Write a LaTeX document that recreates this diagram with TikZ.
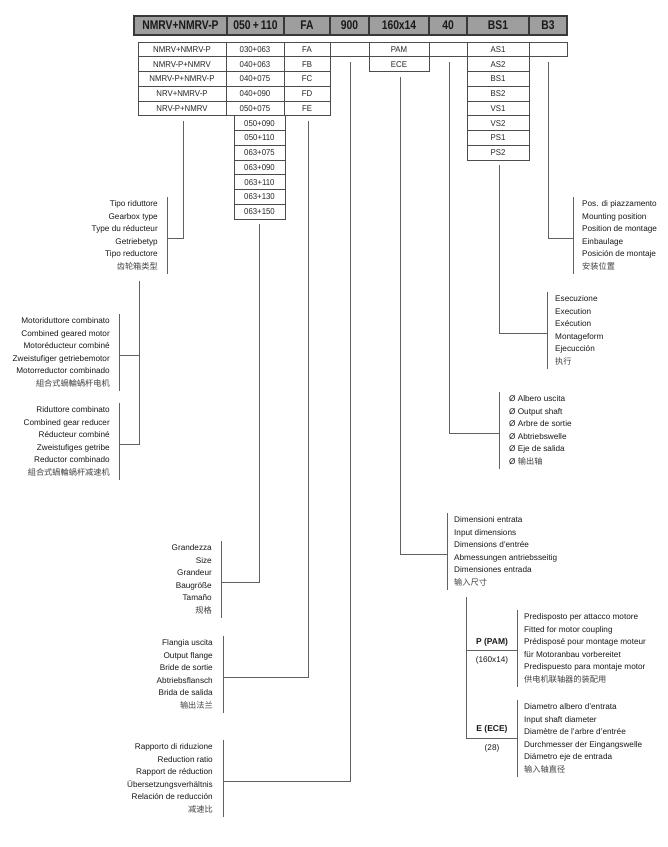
\documentclass[tikz,border=0pt]{standalone}
\usepackage{fontspec}
\setmainfont{Liberation Sans}
\newfontfamily\hdrfont[FakeStretch=0.82,BoldFeatures={FakeStretch=0.82}]{Liberation Sans}
\newfontfamily\cellfont[FakeStretch=0.92]{Liberation Sans}
\newfontfamily\cjk{Noto Sans CJK SC}
\newcommand{\cj}[1]{{\cjk\color{black!75}#1}}
\begin{document}
\begin{tikzpicture}[x=1pt,y=-1pt,
  hcell/.style={draw=black!78, line width=1.5pt, fill=black!38, minimum height=19pt, inner sep=0pt, font=\hdrfont\bfseries\fontsize{12.6}{14}\selectfont, text=black!90},
  cell/.style={draw=black!70, line width=0.7pt, minimum height=14.75pt, inner sep=0pt, font=\cellfont\fontsize{8.5}{10}\selectfont, text=black!85},
  conn/.style={draw=black!62, line width=0.8pt},
  lblR/.style={align=right, anchor=east, inner sep=0pt, font=\fontsize{8.2}{12.5}\selectfont, text=black!90},
  lblL/.style={align=left, anchor=west, inner sep=0pt, font=\fontsize{8.2}{12.5}\selectfont, text=black!90},
  pbold/.style={inner sep=0pt, font=\bfseries\fontsize{8.5}{10}\selectfont, text=black!90},
  psub/.style={inner sep=0pt, font=\fontsize{8.2}{10}\selectfont, text=black!90}
]
\useasboundingbox (0,0) rectangle (668,847);
\fill[white] (0,0) rectangle (668,847);

% header
\node[hcell, minimum width=93pt] (h1) at (180.5,25.5) {NMRV+NMRV-P};
\node[hcell, minimum width=57pt] (h2) at (255.5,25.5) {050\,+\,110};
\node[hcell, minimum width=46pt] (h3) at (307,25.5) {FA};
\node[hcell, minimum width=39pt] (h4) at (349.5,25.5) {900};
\node[hcell, minimum width=60pt] (h5) at (399,25.5) {160x14};
\node[hcell, minimum width=38pt] (h6) at (448,25.5) {40};
\node[hcell, minimum width=62pt] (h7) at (498,25.5) {BS1};
\node[hcell, minimum width=38pt] (h8) at (548,25.5) {B3};

% table row 1
\node[cell, minimum width=88pt] (t11) at (182,49.375) {NMRV+NMRV-P};
\node[cell, minimum width=58pt] (t12) at (255,49.375) {030+063};
\node[cell, minimum width=46pt] (t13) at (307,49.375) {FA};
\node[cell, minimum width=39pt] (t14) at (349.5,49.375) {};
\node[cell, minimum width=60pt] (t15) at (399,49.375) {PAM};
\node[cell, minimum width=38pt] (t16) at (448,49.375) {};
\node[cell, minimum width=62pt] (t17) at (498,49.375) {AS1};
\node[cell, minimum width=38pt] (t18) at (548,49.375) {};
\node[cell, minimum width=60pt] (t25) at (399,64.125) {ECE};

% columns 1-3, rows 2-5
\foreach \a/\b/\c [count=\i from 2] in {NMRV-P+NMRV/040+063/FB, NMRV-P+NMRV-P/040+075/FC, NRV+NMRV-P/040+090/FD, NRV-P+NMRV/050+075/FE}{
  \node[cell, minimum width=88pt] (r\i a) at (182,{42+14.75*(\i-0.5)}) {\a};
  \node[cell, minimum width=58pt] (r\i b) at (255,{42+14.75*(\i-0.5)}) {\b};
  \node[cell, minimum width=46pt] (r\i c) at (307,{42+14.75*(\i-0.5)}) {\c};
}
% lower size column
\foreach \t [count=\i from 6] in {050+090,050+110,063+075,063+090,063+110,063+130,063+150}{
  \node[cell, minimum width=51pt] (s\i) at (259.5,{42+14.75*(\i-0.5)}) {\t};
}
% mounting column
\foreach \t [count=\i from 2] in {AS2,BS1,BS2,VS1,VS2,PS1,PS2}{
  \node[cell, minimum width=62pt] (m\i) at (498,{42+14.75*(\i-0.5)}) {\t};
}

% label blocks
\node[lblR] (A) at (158,235.25) {\strut Tipo riduttore\\\strut Gearbox type\\\strut Type du réducteur\\\strut Getriebetyp\\\strut Tipo reductore\\\strut\cj{齿轮箱类型}};
\node[lblR] (B) at (110,352.25) {\strut Motoriduttore combinato\\\strut Combined geared motor\\\strut Motoréducteur combiné\\\strut Zweistufiger getriebemotor\\\strut Motorreductor combinado\\\strut\cj{組合式蝸輪蝸杆电机}};
\node[lblR] (C) at (110,441.25) {\strut Riduttore combinato\\\strut Combined gear reducer\\\strut Réducteur combiné\\\strut Zweistufiges getribe\\\strut Reductor combinado\\\strut\cj{組合式蝸輪蝸杆减速机}};
\node[lblR] (D) at (212,579.25) {\strut Grandezza\\\strut Size\\\strut Grandeur\\\strut Baugröße\\\strut Tamaño\\\strut\cj{规格}};
\node[lblR] (E) at (213,674.25) {\strut Flangia uscita\\\strut Output flange\\\strut Bride de sortie\\\strut Abtriebsflansch\\\strut Brida de salida\\\strut\cj{输出法兰}};
\node[lblR] (F) at (213,778.25) {\strut Rapporto di riduzione\\\strut Reduction ratio\\\strut Rapport de réduction\\\strut Übersetzungsverhältnis\\\strut Relación de reducción\\\strut\cj{减速比}};
\node[lblL] (G) at (454,551.25) {\strut Dimensioni entrata\\\strut Input dimensions\\\strut Dimensions d'entrée\\\strut Abmessungen antriebsseitig\\\strut Dimensiones entrada\\\strut\cj{输入尺寸}};
\node[lblL] (H) at (509,430.25) {\strut Ø Albero uscita\\\strut Ø Output shaft\\\strut Ø Arbre de sortie\\\strut Ø Abtriebswelle\\\strut Ø Eje de salida\\\strut Ø \cj{输出轴}};
\node[lblL] (I) at (555,330.25) {\strut Esecuzione\\\strut Execution\\\strut Exécution\\\strut Montageform\\\strut Ejecucción\\\strut\cj{执行}};
\node[lblL] (J) at (582,235.25) {\strut Pos. di piazzamento\\\strut Mounting position\\\strut Position de montage\\\strut Einbaulage\\\strut Posición de montaje\\\strut\cj{安装位置}};
\node[lblL] (K) at (524,648.25) {\strut Predisposto per attacco motore\\\strut Fitted for motor coupling\\\strut Prédisposé pour montage moteur\\\strut für Motoranbau vorbereitet\\\strut Predispuesto para montaje motor\\\strut\cj{供电机联轴器的装配用}};
\node[lblL] (L) at (524,738.25) {\strut Diametro albero d'entrata\\\strut Input shaft diameter\\\strut Diamètre de l'arbre d'entrée\\\strut Durchmesser der Eingangswelle\\\strut Diámetro eje de entrada\\\strut\cj{输入轴直径}};

\node[pbold] (pam) at (492,642) {P (PAM)};
\node[psub] (pamv) at (492,660) {(160x14)};
\node[pbold] (ece) at (492,729) {E (ECE)};
\node[psub] (ecev) at (492,748) {(28)};

% bracket coordinates
\coordinate (At) at (167,197);   \coordinate (Ab) at (167,273.5); \coordinate (Am) at (167,238);
\coordinate (Bt) at (119,314);   \coordinate (Bb) at (119,390.5); \coordinate (Bm) at (119,355);
\coordinate (Ct) at (119,403);   \coordinate (Cb) at (119,479.5); \coordinate (Cm) at (119,444);
\coordinate (Dt) at (221,541);   \coordinate (Db) at (221,617.5); \coordinate (Dm) at (221,582);
\coordinate (Et) at (223,636);   \coordinate (Eb) at (223,712.5); \coordinate (Em) at (223,677);
\coordinate (Ft) at (223,740);   \coordinate (Fb) at (223,816.5); \coordinate (Fm) at (223,781);
\coordinate (Gt) at (447,513);   \coordinate (Gb) at (447,589.5); \coordinate (Gm) at (447,554);
\coordinate (Ht) at (499,392);   \coordinate (Hb) at (499,468.5); \coordinate (Hm) at (499,433);
\coordinate (It) at (547,292);   \coordinate (Ib) at (547,368.5); \coordinate (Im) at (547,333);
\coordinate (Jt) at (573,197);   \coordinate (Jb) at (573,273.5); \coordinate (Jm) at (573,238);
\coordinate (Kt) at (517,610);   \coordinate (Kb) at (517,686.5); \coordinate (Km) at (517,650);
\coordinate (Lt) at (517,700);   \coordinate (Lb) at (517,776.5); \coordinate (Lm) at (517,738);

\foreach \n in {A,B,C,D,E,F,G,H,I,J,K,L}{ \draw[conn] (\n t) -- (\n b); }

% connector start points
\coordinate (c1) at (183,121);
\coordinate (c2) at (259,224);
\coordinate (c3) at (308,121);
\coordinate (c4) at (350,62);
\coordinate (c5) at (400,77);
\coordinate (c6) at (449,62);
\coordinate (c7) at (499,165);
\coordinate (c8) at (548,62);
\coordinate (cg) at (139,281);
\coordinate (cp) at (466,597);

\draw[conn] (c1) |- (Am);
\draw[conn] (c2) |- (Dm);
\draw[conn] (c3) |- (Em);
\draw[conn] (c4) |- (Fm);
\draw[conn] (c5) |- (Gm);
\draw[conn] (c6) |- (Hm);
\draw[conn] (c7) |- (Im);
\draw[conn] (c8) |- (Jm);
\draw[conn] (cg) |- (Cm);
\draw[conn] (Bm) -| (cg);
\draw[conn] (cp) |- (Lm);
\draw[conn] (Km) -| (cp);
\end{tikzpicture}
\end{document}
